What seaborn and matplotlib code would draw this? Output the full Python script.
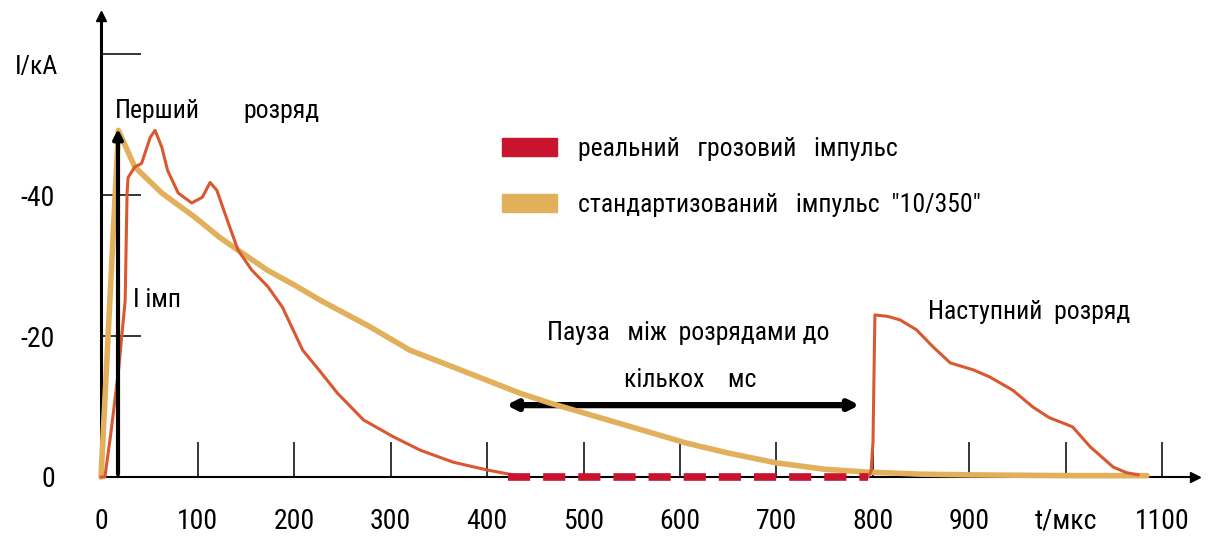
import numpy as np
import pandas as pd
import seaborn as sns
import matplotlib.pyplot as plt
from matplotlib import font_manager
from matplotlib.patches import Patch

# реальний імпульс (перший розряд), мкс / кА
real_t = [0, 4, 10, 18, 25, 27, 28, 35, 42, 51, 56, 63, 69, 80, 94, 105, 113, 120, 132, 142,
          156, 173, 188, 209, 227, 245, 272, 303, 331, 365, 400, 427]
real_i = [0, 0, 6, 15, 25, 40.3, 42.5, 44, 44.5, 48.2, 49.2, 46.8, 43.5, 40.3, 38.9, 39.7, 41.8, 40.7, 36, 32.2,
          29.4, 27, 24.1, 18, 15, 11.9, 8.1, 5.7, 3.8, 2.1, 1.0, 0.3]

# пауза між розрядами
pause_t = [422, 795]
pause_i = [0, 0]

# наступний розряд
next_t = [795, 798, 800, 802, 815, 828, 845, 862, 880, 904, 921, 945, 966, 983, 1000, 1007, 1025, 1049, 1063, 1075]
next_i = [0, 0.8, 5, 23, 22.8, 22.3, 20.9, 18.5, 16.2, 15.2, 14.2, 12.3, 9.9, 8.4, 7.5, 7.1, 4.3, 1.4, 0.6, 0.3]

# стандартизований імпульс 10/350
std_t = [0, 18, 35, 63, 97, 123, 142, 173, 201, 227, 279, 320, 365, 434, 465, 540, 607, 650, 700, 750, 794, 850, 900, 1000, 1084]
std_i = [0, 49.2, 44, 40.3, 36.9, 34, 32.2, 29.3, 27.2, 25.1, 21.3, 18, 15.6, 11.9, 10.5, 7.5, 4.8, 3.4, 2.0, 1.1, 0.7, 0.4, 0.3, 0.2, 0.2]

x_ticks = [0, 100, 200, 300, 400, 500, 600, 700, 800, 900, 1000, 1100]
x_labels = ['0', '100', '200', '300', '400', '500', '600', '700', '800', '900', 't/мкс', '1100']
y_ticks = [0, 20, 40, 60]
y_labels = ['0', '-20', '-40', '']

RED = '#d9582f'
CRIMSON = '#c8142f'
GOLD = '#e2b05a'

sns.set_style('white')

# вузький шрифт, якщо є
names = {f.name for f in font_manager.fontManager.ttflist}
family = ['DejaVu Sans']
stretch = 'normal'
for cand in ['Liberation Sans Narrow', 'Roboto Condensed', 'Open Sans Condensed', 'Noto Sans Condensed']:
    if cand in names:
        family = [cand, 'DejaVu Sans']
        break
else:
    cond = [f for f in font_manager.fontManager.ttflist
            if 'condensed' in str(f.stretch).lower() or 'Condensed' in f.name or 'Narrow' in f.name]
    if cond:
        family = [cond[0].name, 'DejaVu Sans']
        stretch = cond[0].stretch
plt.rcParams['font.family'] = family
plt.rcParams['font.stretch'] = stretch
plt.rcParams['text.color'] = 'black'
narrow = family[0] != 'DejaVu Sans'
fs_tick = 20 if narrow else 16
fs = 18.5 if narrow else 15

fig = plt.figure(figsize=(12.14, 5.39), dpi=100)
ax = fig.add_axes([0, 0, 1, 1])
ax.set_xlim(-104.7, 1153.4)
ax.set_ylim(-8.8, 67.7)

sns.lineplot(x=std_t, y=std_i, sort=False, color=GOLD, lw=4, ax=ax, zorder=3)
sns.lineplot(x=real_t, y=real_i, sort=False, color=RED, lw=2.2, ax=ax, zorder=4)
sns.lineplot(x=next_t, y=next_i, sort=False, color=RED, lw=2.2, ax=ax, zorder=4)
sns.lineplot(x=pause_t, y=pause_i, sort=False, color=CRIMSON, lw=5.5, ax=ax, zorder=4,
             linestyle=(0, (2.9, 1.7)))

# оси
for s in ['top', 'right']:
    ax.spines[s].set_visible(False)
ax.spines['left'].set_position(('data', 0))
ax.spines['bottom'].set_position(('data', 0))
ax.spines['left'].set_bounds(0, 65.5)
ax.spines['bottom'].set_bounds(0, 1134)
ax.spines['left'].set_linewidth(2.2)
ax.spines['bottom'].set_linewidth(1.5)
ax.spines['left'].set_color('black')
ax.spines['bottom'].set_color('black')
ax.plot([0], [65.5], marker='^', color='black', ms=7, clip_on=False)
ax.plot([1134], [0], marker='>', color='black', ms=7, clip_on=False)

ax.set_xticks(x_ticks, x_labels)
ax.set_yticks(y_ticks, y_labels)
ax.tick_params(axis='x', bottom=True, direction='in', length=25, width=1.1, pad=22,
               labelsize=fs_tick, colors='black')
ax.tick_params(axis='y', left=True, direction='in', length=29, width=1.1, pad=33,
               labelsize=fs_tick, colors='black')
ax.grid(False)

# стрілки
ax.annotate('', xy=(17.6, 49.8), xytext=(17.6, 0),
            arrowprops=dict(arrowstyle='-|>', lw=3, color='black', mutation_scale=14), zorder=5)
ax.annotate('', xy=(789, 10.2), xytext=(417, 10.2),
            arrowprops=dict(arrowstyle='<|-|>', lw=4.5, color='black', mutation_scale=14), zorder=2)

# підписи
ax.text(-89, 58.2, 'I/кА', fontsize=fs, va='center', ha='left')
ax.text(14.5, 52.0, 'Перший', fontsize=fs, va='center', ha='left')
ax.text(147, 52.0, 'розряд', fontsize=fs, va='center', ha='left')
ax.text(33, 25.1, 'I імп', fontsize=fs, va='center', ha='left')
ax.text(609, 20.4, 'Пауза   між  розрядами до', fontsize=fs, va='center', ha='center')
ax.text(611, 13.8, 'кількох    мс', fontsize=fs, va='center', ha='center')
ax.text(857, 23.4, 'Наступний  розряд', fontsize=fs, va='center', ha='left')

handles = [Patch(color=CRIMSON), Patch(color=GOLD)]
ax.legend(handles, ['реальний   грозовий   імпульс', 'стандартизований   імпульс  "10/350"'],
          loc='upper left', bbox_to_anchor=(502 / 1214, 1 - 137 / 539), frameon=False,
          fontsize=fs, handlelength=2.15, handleheight=0.7, handletextpad=0.8,
          labelspacing=1.26, borderaxespad=0, borderpad=0, labelcolor='black')

fig.savefig('out.png', dpi=100)
